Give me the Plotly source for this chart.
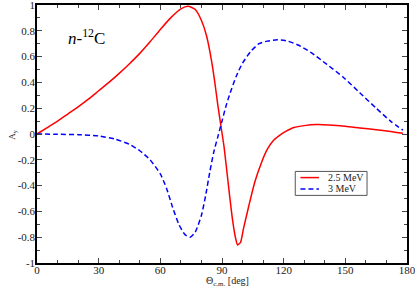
import plotly.graph_objects as go

theta_red = [0, 5, 10, 15, 20, 25, 30, 35, 40, 45, 50, 55, 60, 65, 70, 73.5, 77, 80, 82.5, 85, 86.5, 88, 89.5, 91, 93, 95, 96.5, 97.6, 99, 100.5, 103, 106, 109, 112, 115, 118, 121, 125, 130, 136, 142, 150, 157, 165, 172, 178]
ay_red = [0, 0.05, 0.1, 0.155, 0.21, 0.27, 0.335, 0.4, 0.47, 0.545, 0.625, 0.715, 0.81, 0.9, 0.97, 0.99, 0.965, 0.88, 0.76, 0.56, 0.4, 0.22, 0.06, -0.1, -0.38, -0.65, -0.8, -0.86, -0.84, -0.73, -0.56, -0.37, -0.23, -0.12, -0.05, -0.01, 0.02, 0.05, 0.065, 0.073, 0.07, 0.06, 0.047, 0.033, 0.02, 0.005]

theta_blue = [0, 10, 20, 30, 38, 45, 50, 55, 60, 63, 66, 69, 72, 74.5, 77, 80, 82, 84, 86, 88, 90, 92, 94, 97, 100, 104, 108, 112, 117, 122, 127, 133, 141, 149, 157, 165, 172, 178]
ay_blue = [0, -0.002, -0.005, -0.015, -0.04, -0.08, -0.13, -0.2, -0.31, -0.42, -0.57, -0.7, -0.78, -0.8, -0.76, -0.63, -0.48, -0.3, -0.14, -0.02, 0.1, 0.22, 0.32, 0.45, 0.55, 0.64, 0.7, 0.72, 0.73, 0.72, 0.69, 0.635, 0.54, 0.44, 0.32, 0.2, 0.1, 0.03]

series_names = ["2.5 MeV", "3 MeV"]
series_colors = ["#ff0000", "#0000ff"]
series_dash = ["solid", "5px,3px"]
x_ticks = [0, 30, 60, 90, 120, 150, 180]
y_ticks = [-1, -0.8, -0.6, -0.4, -0.2, 0, 0.2, 0.4, 0.6, 0.8, 1]

font_family = "Liberation Serif, Times New Roman, serif"

fig = go.Figure()
for xs, ys, name, col, dash in [(theta_red, ay_red, series_names[0], series_colors[0], series_dash[0]),
                                (theta_blue, ay_blue, series_names[1], series_colors[1], series_dash[1])]:
    fig.add_trace(go.Scatter(x=xs, y=ys, mode="lines", name=name, showlegend=False,
                             line=dict(color=col, width=1.5, dash=dash, shape="spline", smoothing=0.6)))

axis_common = dict(
    showline=True, linecolor="black", linewidth=1.5, mirror="ticks",
    ticks="inside", ticklen=5, tickwidth=1, tickcolor="#444",
    showgrid=False, zeroline=False, automargin=False, ticklabeloverflow="allow",
    tickfont=dict(family=font_family, size=11, color="#222"),
)

fig.update_layout(
    width=415, height=290,
    margin=dict(l=37, r=8, t=5, b=27),
    plot_bgcolor="white", paper_bgcolor="white",
    font=dict(family=font_family),
    showlegend=False,
    xaxis=dict(range=[0, 180], tickvals=x_ticks, ticklabelstandoff=-4,
               minor=dict(ticks="inside", dtick=10, ticklen=3, tickcolor="#444", showgrid=False),
               **axis_common),
    yaxis=dict(range=[-1, 1], tickvals=y_ticks, ticktext=[f"{v:g}" for v in y_ticks],
               ticklabelstandoff=-2,
               minor=dict(ticks="inside", dtick=0.1, ticklen=3, tickcolor="#444", showgrid=False),
               **axis_common),
)

# legend box (drawn manually to match compact style)
lx0, lx1, ly0, ly1 = 0.698, 0.892, 0.262, 0.355
fig.add_shape(type="rect", xref="paper", yref="paper", x0=lx0, x1=lx1, y0=ly0, y1=ly1,
              line=dict(color="#555", width=1), fillcolor="white", layer="above")
for i, (name, col, dash) in enumerate(zip(series_names, series_colors, series_dash)):
    yy = ly1 - 0.024 - i * 0.044
    fig.add_shape(type="line", xref="paper", yref="paper", x0=lx0 + 0.014, x1=lx0 + 0.064,
                  y0=yy, y1=yy, line=dict(color=col, width=1.5, dash=dash), layer="above")
    fig.add_annotation(x=lx0 + 0.082, y=yy, xref="paper", yref="paper", text=name,
                       showarrow=False, xanchor="left", yanchor="middle",
                       font=dict(family=font_family, size=10, color="#222"))

fig.add_annotation(x=-0.068, y=0.5, xref="paper", yref="paper", text="A<sub>y</sub>",
                   showarrow=False, textangle=-90, xanchor="center", yanchor="middle",
                   font=dict(family=font_family, size=9, color="#222"))

fig.add_annotation(x=0.516, y=-0.04, xref="paper", yref="paper",
                   text="Θ<sub>c.m.</sub> [deg]", showarrow=False,
                   xanchor="center", yanchor="top",
                   font=dict(family=font_family, size=10, color="#222"))

fig.add_annotation(x=0.078, y=0.876, xref="paper", yref="paper",
                   text="<i>n</i>-<sup>12</sup>C", showarrow=False,
                   xanchor="left", yanchor="middle",
                   font=dict(family=font_family, size=17, color="black"))

fig.write_html("out.html", config={"displayModeBar": False},
               post_script="document.body.style.margin='0';document.body.style.padding='0';")
